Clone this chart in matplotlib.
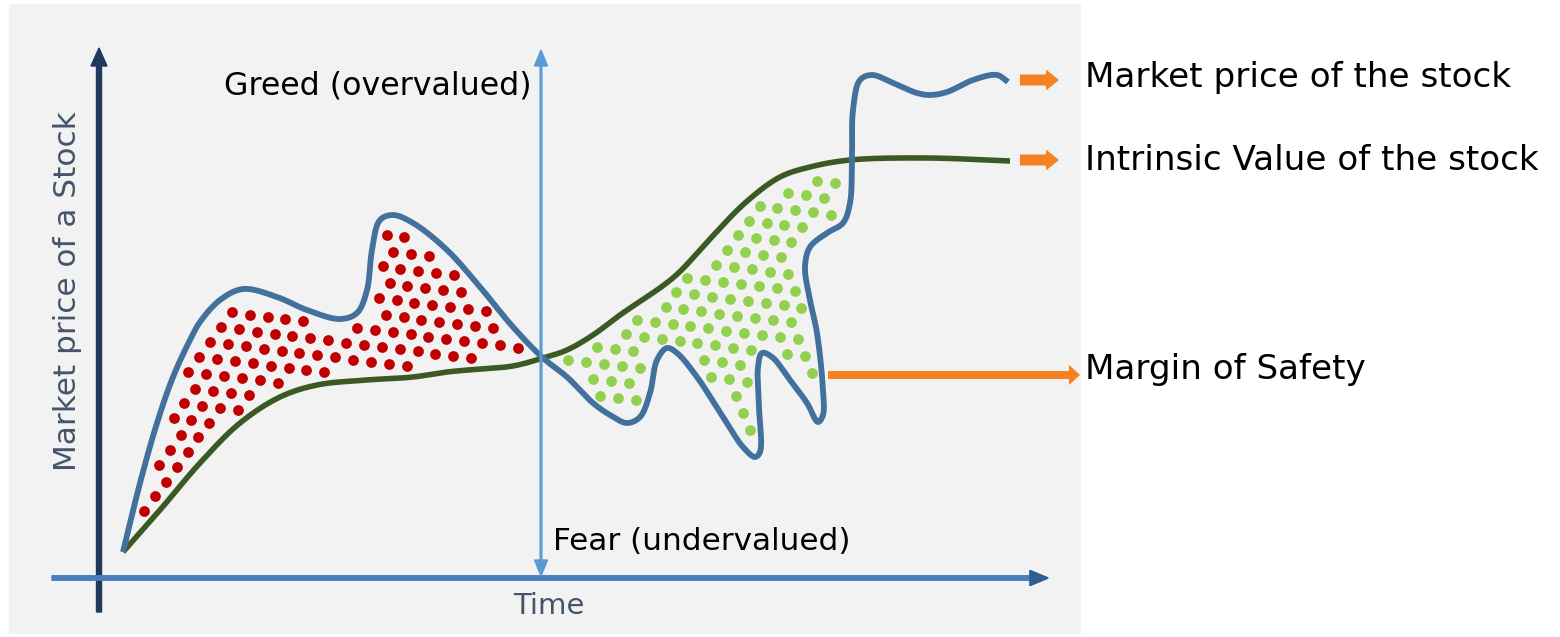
import matplotlib
matplotlib.use("Agg")
import matplotlib.pyplot as plt
import numpy as np
from matplotlib.path import Path
from matplotlib.patches import Rectangle

# time axis positions and price levels of the two curves
market_time = [123, 140, 157, 173, 190, 200, 220, 243, 277, 307, 340, 357, 367, 372, 380, 393,
               413, 447, 480, 513, 543, 567, 593, 610, 627, 640, 650, 657, 667, 677, 697,
               723, 743, 755, 760, 759, 758, 762, 772, 790, 807, 818, 823, 823, 817, 810,
               805, 810, 827, 843, 850, 852, 853, 860, 872, 893, 917, 930, 947, 973, 997, 1008]
market_price = [85, 154, 214, 260, 297, 315, 337, 348, 340, 327, 318, 324, 347, 387, 417, 422,
                414, 387, 350, 310, 279, 260, 234, 222, 214, 220, 244, 277, 289, 284, 260,
                220, 190, 180, 185, 230, 270, 284, 280, 257, 234, 215, 222, 247, 304, 337,
                370, 390, 404, 414, 434, 477, 527, 557, 562, 554, 544, 542, 545, 557, 562, 555]

intrinsic_time = [123, 160, 200, 240, 280, 317, 367, 413, 447, 480, 513, 543, 567, 593,
                  620, 674, 709, 745, 780, 810, 850, 927, 1010]
intrinsic_price = [85, 127, 174, 214, 240, 252, 257, 260, 265, 268, 271, 279, 287, 302,
                   322, 360, 397, 434, 460, 470, 477, 479, 476]

# index of the points where the two curves meet
cross_market = [20, 51]
cross_intrinsic = [11, 20]

labels_right = ["Market price of the stock", "Intrinsic Value of the stock", "Margin of Safety"]

BLUE = "#41719c"
GREEN = "#3b5a23"
ORANGE = "#f58220"
AXIS_TEXT = "#44546a"
N = 24


def smooth(xs, ys, n=N):
    # centripetal catmull-rom through the given points
    P = np.column_stack([xs, ys]).astype(float)
    P = np.vstack([2 * P[0] - P[1], P, 2 * P[-1] - P[-2]])
    out = []
    for i in range(1, len(P) - 2):
        p0, p1, p2, p3 = P[i - 1:i + 3]
        t0 = 0.0
        t1 = t0 + max(np.linalg.norm(p1 - p0), 1e-6) ** 0.5
        t2 = t1 + max(np.linalg.norm(p2 - p1), 1e-6) ** 0.5
        t3 = t2 + max(np.linalg.norm(p3 - p2), 1e-6) ** 0.5
        t = np.linspace(t1, t2, n, endpoint=False)[:, None]
        a1 = (t1 - t) / (t1 - t0) * p0 + (t - t0) / (t1 - t0) * p1
        a2 = (t2 - t) / (t2 - t1) * p1 + (t - t1) / (t2 - t1) * p2
        a3 = (t3 - t) / (t3 - t2) * p2 + (t - t2) / (t3 - t2) * p3
        b1 = (t2 - t) / (t2 - t0) * a1 + (t - t0) / (t2 - t0) * a2
        b2 = (t3 - t) / (t3 - t1) * a2 + (t - t1) / (t3 - t1) * a3
        c = (t2 - t) / (t2 - t1) * b1 + (t - t1) / (t2 - t1) * b2
        out.extend(c)
    out.append(P[-2])
    return np.array(out)


def dots_in(poly, gap=8.8, dx=18.0, dy=16.0, tilt=-7):
    # slightly tilted staggered grid of dots clipped to the region
    cx, cy = poly.mean(0)
    r = max(np.ptp(poly[:, 0]), np.ptp(poly[:, 1])) + 2 * dx
    xs = np.arange(-r, r, dx)
    ys = np.arange(-r, r, dy)
    pts = []
    for k, y in enumerate(ys):
        shift = dx / 2 if k % 2 else 0.0
        pts.extend([(x + shift, y) for x in xs])
    pts = np.array(pts)
    a = np.radians(tilt)
    rot = np.array([[np.cos(a), -np.sin(a)], [np.sin(a), np.cos(a)]])
    pts = pts @ rot.T + [cx, cy]
    pts = pts[Path(poly).contains_points(pts)]
    d = np.sqrt(((pts[:, None, :] - poly[None, :, :]) ** 2).sum(-1)).min(1)
    return pts[d >= gap]


market = smooth(market_time, market_price)
intrinsic = smooth(intrinsic_time, intrinsic_price)

m0, m1 = cross_market[0] * N, cross_market[1] * N
i0, i1 = cross_intrinsic[0] * N, cross_intrinsic[1] * N
greed_poly = np.vstack([market[:m0 + 1], intrinsic[i0::-1]])
fear_poly = np.vstack([market[m0:m1 + 1], intrinsic[i1:i0 - 1:-1]])

fig = plt.figure(figsize=(15.6, 6.37), dpi=100)
ax = fig.add_axes([0, 0, 1, 1])
ax.set_xlim(0, 1560)
ax.set_ylim(0, 637)
ax.axis("off")

ax.add_patch(Rectangle((9, 3), 1072, 630, facecolor="#f2f2f2", edgecolor="none", zorder=0))

red = dots_in(greed_poly)
grn = dots_in(fear_poly)
ax.scatter(red[:, 0], red[:, 1], s=60, color="#c00000", linewidths=0, zorder=2)
ax.scatter(grn[:, 0], grn[:, 1], s=60, color="#92d050", linewidths=0, zorder=2)

ax.plot(intrinsic[:, 0], intrinsic[:, 1], color=GREEN, lw=4.0, solid_capstyle="butt", zorder=3)
ax.plot(market[:, 0], market[:, 1], color=BLUE, lw=4.2, solid_capstyle="butt", zorder=4)

# axes arrows
ax.arrow(99, 25, 0, 564, width=5, head_width=16, head_length=18, length_includes_head=True,
         color="#1f3a5c", zorder=5)
ax.arrow(52, 59, 996, 0, width=4.5, head_width=15, head_length=18, length_includes_head=True,
         color="#4a7ebb", zorder=5)
ax.arrow(1030, 59, 18, 0, width=4.5, head_width=15, head_length=18, length_includes_head=True,
         color="#2f5f8f", zorder=5)

# greed / fear divider
ax.arrow(541, 320, 0, 267, width=1.8, head_width=13, head_length=16, length_includes_head=True,
         color="#5b9bd5", zorder=5)
ax.arrow(541, 320, 0, -259, width=1.8, head_width=13, head_length=16, length_includes_head=True,
         color="#5b9bd5", zorder=5)

# pointers to the labels
ax.arrow(1020, 557, 39, 0, width=11, head_width=21, head_length=13, length_includes_head=True,
         color=ORANGE, lw=0, zorder=5)
ax.arrow(1020, 477, 39, 0, width=11, head_width=21, head_length=13, length_includes_head=True,
         color=ORANGE, lw=0, zorder=5)
ax.arrow(828, 262, 252, 0, width=8, head_width=20, head_length=11, length_includes_head=True,
         color=ORANGE, lw=0, zorder=5)

font = "DejaVu Sans"
ax.text(532, 551, "Greed (overvalued)", ha="right", va="center", fontsize=22.8, family=font, color="black")
ax.text(553, 96, "Fear (undervalued)", ha="left", va="center", fontsize=22.4, family=font, color="black")
ax.text(549, 31, "Time", ha="center", va="center", fontsize=21, family=font, color=AXIS_TEXT)
ax.text(68, 346, "Market price of a Stock", ha="center", va="center", rotation=90,
        fontsize=22.4, family=font, color=AXIS_TEXT)
for label, y in zip(labels_right, [560, 477, 267]):
    ax.text(1085, y, label, ha="left", va="center", fontsize=24.6, family=font, color="black")

fig.savefig("out.png", dpi=100, facecolor="white")
